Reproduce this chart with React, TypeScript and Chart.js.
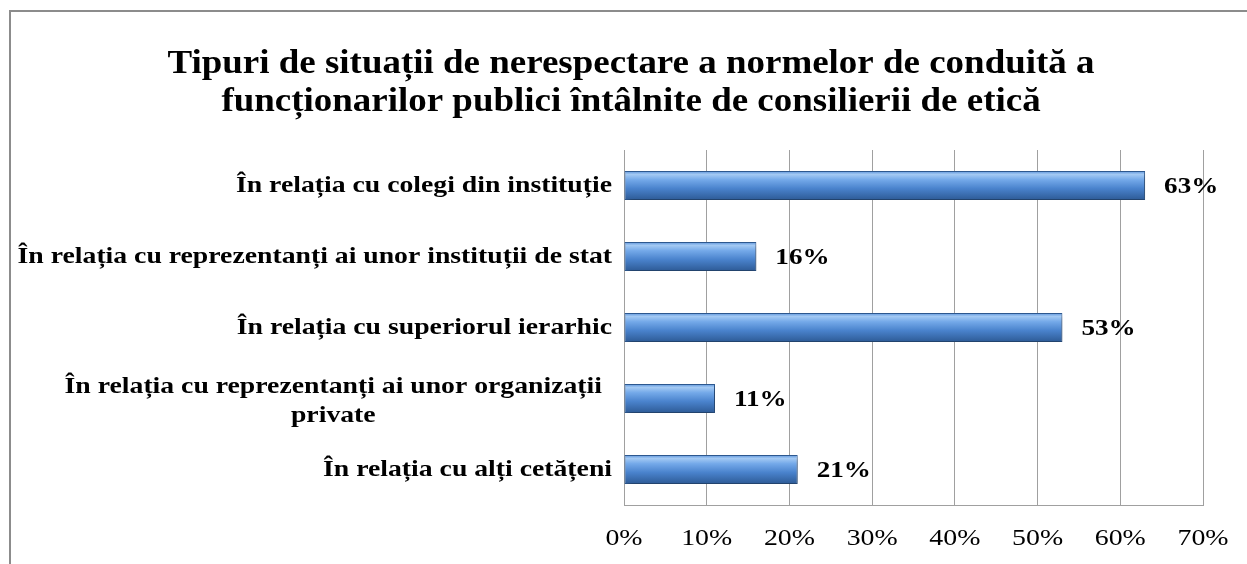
import { useEffect, useRef } from 'react';
import { Chart, registerables } from 'chart.js';

Chart.register(...registerables);

const TITLE_LINES = [
  'Tipuri de situații de nerespectare a normelor de conduită a',
  'funcționarilor publici întâlnite de consilierii de etică',
];

const CATEGORIES: (string | string[])[] = [
  'În relația cu colegi din instituție',
  'În relația cu reprezentanți ai unor instituții de stat',
  'În relația cu superiorul ierarhic',
  ['În relația cu reprezentanți ai unor organizații', 'private'],
  'În relația cu alți cetățeni',
];

const VALUES = [63, 16, 53, 11, 21];

const X_MIN = 0;
const X_MAX = 70;
const X_STEP = 10;

const SERIF = "'Liberation Serif', 'Times New Roman', serif";
const BAR_FRACTION = 0.41;

function stretchedText(c: CanvasRenderingContext2D, t: string, x: number, y: number, sx: number) {
  c.save();
  c.translate(x, y);
  c.scale(sx, 1);
  c.fillText(t, 0, 0);
  c.restore();
}

export default function App() {
  const ref = useRef<HTMLCanvasElement | null>(null);

  useEffect(() => {
    document.body.style.margin = '0';
    const canvas = ref.current;
    if (!canvas) return;

    const framePlugin = {
      id: 'frame',
      beforeDraw(chart: any) {
        const c = chart.ctx;
        c.save();
        c.fillStyle = '#ffffff';
        c.fillRect(0, 0, chart.width, chart.height);
        c.strokeStyle = '#8c8c8c';
        c.lineWidth = 2;
        c.beginPath();
        c.moveTo(10, chart.height + 10);
        c.lineTo(10, 11);
        c.lineTo(chart.width + 10, 11);
        c.stroke();
        c.restore();
      },
    };

    const titlePlugin = {
      id: 'customTitle',
      afterDraw(chart: any) {
        const c = chart.ctx;
        c.save();
        c.fillStyle = '#000';
        c.font = `bold 33px ${SERIF}`;
        c.textAlign = 'center';
        c.textBaseline = 'alphabetic';
        TITLE_LINES.forEach((t, i) => stretchedText(c, t, 631, 73 + i * 38, 1.12));
        c.restore();
      },
    };

    const yLabelPlugin = {
      id: 'yLabels',
      afterDraw(chart: any) {
        const c = chart.ctx;
        const ys = chart.scales.y;
        const sx = 1.155;
        c.save();
        c.fillStyle = '#000';
        c.font = `bold 24px ${SERIF}`;
        c.textAlign = 'center';
        c.textBaseline = 'middle';
        CATEGORIES.forEach((lab, i) => {
          const lines = Array.isArray(lab) ? lab : [lab];
          const right = chart.chartArea.left - (lines.length > 1 ? 22 : 12);
          const w = Math.max(...lines.map((l) => c.measureText(l).width)) * sx;
          const cx = right - w / 2;
          const yc = ys.getPixelForValue(i) + (lines.length > 1 ? 3 : 0);
          lines.forEach((l, j) => {
            stretchedText(c, l, cx, yc + (j - (lines.length - 1) / 2) * 29, sx);
          });
        });
        c.restore();
      },
    };

    const xTickPlugin = {
      id: 'xTicks',
      afterDraw(chart: any) {
        const c = chart.ctx;
        const xs = chart.scales.x;
        c.save();
        c.fillStyle = '#000';
        c.font = `24px ${SERIF}`;
        c.textAlign = 'center';
        c.textBaseline = 'middle';
        xs.ticks.forEach((t: any) => {
          stretchedText(c, `${t.value}%`, xs.getPixelForValue(t.value), chart.chartArea.bottom + 34, 1.16);
        });
        c.restore();
      },
    };

    const shadowPlugin = {
      id: 'barShadow',
      beforeDatasetDraw(chart: any) {
        const c = chart.ctx;
        c.save();
        c.shadowColor = 'rgba(0,0,0,0.35)';
        c.shadowBlur = 6;
        c.shadowOffsetX = 2;
        c.shadowOffsetY = 3;
      },
      afterDatasetDraw(chart: any) {
        chart.ctx.restore();
      },
    };

    const dataLabelPlugin = {
      id: 'dataLabels',
      afterDatasetsDraw(chart: any) {
        const c = chart.ctx;
        const meta = chart.getDatasetMeta(0);
        c.save();
        c.fillStyle = '#000';
        c.font = `bold 24px ${SERIF}`;
        c.textAlign = 'left';
        c.textBaseline = 'middle';
        meta.data.forEach((bar: any, i: number) => {
          stretchedText(c, `${VALUES[i]}%`, bar.x + 19, bar.y + 1, 1.13);
        });
        c.restore();
      },
    };

    const chart = new Chart(canvas, {
      type: 'bar',
      data: {
        labels: CATEGORIES as any,
        datasets: [
          {
            data: VALUES,
            backgroundColor: (ctx: any) => {
              const ch = ctx.chart;
              const ys = ch.scales?.y;
              if (!ys || ctx.dataIndex === undefined || !ys.height) return '#4a82cc';
              const yc = ys.getPixelForValue(ctx.dataIndex);
              const h = (ys.height / CATEGORIES.length) * BAR_FRACTION;
              const g = ch.ctx.createLinearGradient(0, yc - h / 2, 0, yc + h / 2);
              g.addColorStop(0, '#5a92da');
              g.addColorStop(0.12, '#a3c9f3');
              g.addColorStop(0.3, '#74a9e9');
              g.addColorStop(0.6, '#4a83cd');
              g.addColorStop(1, '#2d5a95');
              return g;
            },
            borderColor: '#2f5c96',
            borderWidth: 1,
            borderSkipped: false,
            categoryPercentage: 1,
            barPercentage: BAR_FRACTION,
          },
        ],
      },
      options: {
        indexAxis: 'y',
        animation: false,
        responsive: true,
        maintainAspectRatio: false,
        devicePixelRatio: 1,
        layout: { padding: { left: 10, top: 150, right: 44, bottom: 0 } },
        plugins: {
          legend: { display: false },
          title: { display: false },
          tooltip: { enabled: false },
        },
        scales: {
          x: {
            type: 'linear',
            min: X_MIN,
            max: X_MAX,
            ticks: {
              stepSize: X_STEP,
              display: false,
            },
            grid: { color: '#a0a0a0', lineWidth: 1, drawTicks: false },
            border: { color: '#a0a0a0', width: 1 },
            afterFit: (s: any) => {
              s.height = 59;
            },
          },
          y: {
            type: 'category',
            ticks: { display: false },
            grid: { display: false, drawTicks: false },
            border: { display: true, color: '#a0a0a0', width: 1 },
            afterFit: (s: any) => {
              s.width = 614;
            },
          },
        },
      } as any,
      plugins: [framePlugin, shadowPlugin, dataLabelPlugin, titlePlugin, yLabelPlugin, xTickPlugin],
    });

    return () => chart.destroy();
  }, []);

  return (
    <div style={{ width: 1247, height: 564, position: 'relative' }}>
      <canvas ref={ref} />
    </div>
  );
}
